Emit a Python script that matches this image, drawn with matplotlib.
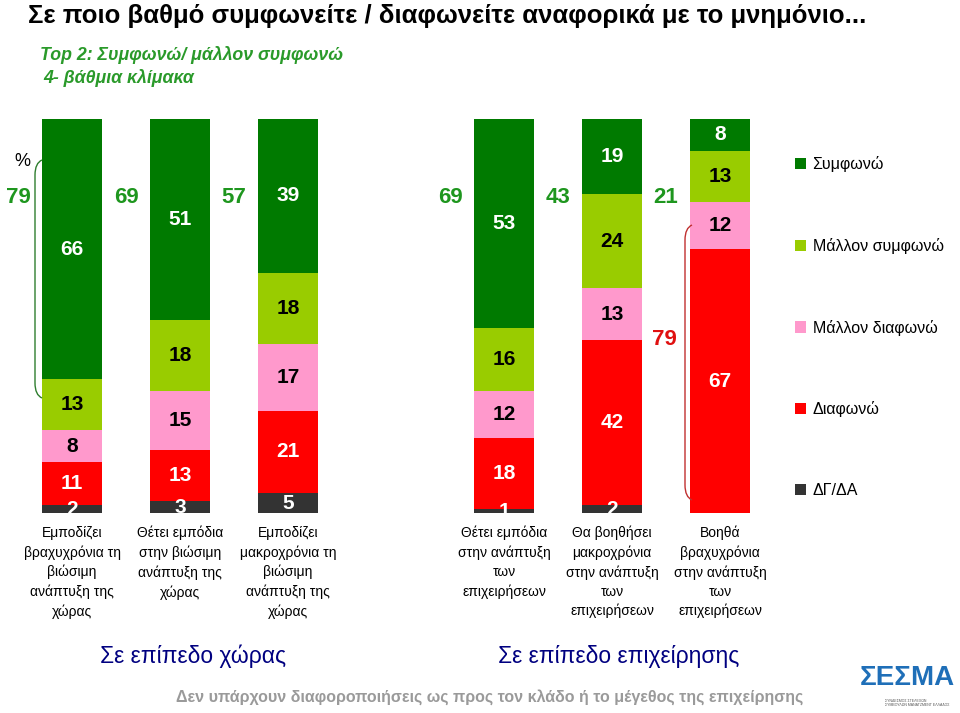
import matplotlib.pyplot as plt
from matplotlib.path import Path
from matplotlib.patches import PathPatch

plt.rcParams["font.family"] = ["Liberation Sans", "DejaVu Sans"]

# Data
categories = [
    "Εμποδίζει\nβραχυχρόνια τη\nβιώσιμη\nανάπτυξη της\nχώρας",
    "Θέτει εμπόδια\nστην βιώσιμη\nανάπτυξη της\nχώρας",
    "Εμποδίζει\nμακροχρόνια τη\nβιώσιμη\nανάπτυξη της\nχώρας",
    "Θέτει εμπόδια\nστην ανάπτυξη\nτων\nεπιχειρήσεων",
    "Θα βοηθήσει\nμακροχρόνια\nστην ανάπτυξη\nτων\nεπιχειρήσεων",
    "Βοηθά\nβραχυχρόνια\nστην ανάπτυξη\nτων\nεπιχειρήσεων",
]
positions = [0, 1, 2, 4, 5, 6]
dk_da = [2, 3, 5, 1, 2, 0]
diafono = [11, 13, 21, 18, 42, 67]
mallon_diafono = [8, 15, 17, 12, 13, 12]
mallon_symfono = [13, 18, 18, 16, 24, 13]
symfono = [66, 51, 39, 53, 19, 8]
top2 = [79, 69, 57, 69, 43, 21]
bottom2_last = 79

series = [
    ("ΔΓ/ΔΑ", dk_da, "#333333", "white"),
    ("Διαφωνώ", diafono, "#ff0000", "white"),
    ("Μάλλον διαφωνώ", mallon_diafono, "#ff99cc", "black"),
    ("Μάλλον συμφωνώ", mallon_symfono, "#99cc00", "black"),
    ("Συμφωνώ", symfono, "#007a00", "white"),
]

W, H = 960, 713
fig = plt.figure(figsize=(W / 100, H / 100), dpi=100)


def fx(x):
    return x / W


def fy(y):
    return 1 - y / H


ax = fig.add_axes([0, fy(513), 1, (513 - 119) / H])
ax.set_xlim(-72 / 108, (W - 72) / 108)
ax.set_ylim(0, 100)
ax.axis("off")

bottoms = [0] * len(positions)
handles = {}
for name, vals, color, tcol in series:
    bars = ax.bar(positions, vals, width=60 / 108, bottom=bottoms, color=color,
                  edgecolor="none")
    handles[name] = bars
    for x, b, v in zip(positions, bottoms, vals):
        if v > 0:
            ax.text(x, b + v / 2, str(v), ha="center", va="center", fontsize=15,
                    fontweight="bold", color=tcol, clip_on=True)
    bottoms = [b + v for b, v in zip(bottoms, vals)]

# top-2 totals
for x, t in zip(positions, top2):
    ax.text(x - 0.5, 80, str(t), ha="center", va="center", fontsize=16,
            fontweight="bold", color="#1e961e", clip_on=False)
ax.text(positions[-1] - 0.51, 44, str(bottom2_last), ha="center", va="center",
        fontsize=16, fontweight="bold", color="#e01010", clip_on=False)

fig.text(fx(22), fy(162), "%", ha="center", va="center", fontsize=13)


# brackets
def bracket(x, y0, y1, color):
    verts = [(fx(x), fy(y0)), (fx(x - 7), fy(y0 + 3)), (fx(x - 7), fy(y0 + 15)),
             (fx(x - 7), fy(y1 - 15)),
             (fx(x - 7), fy(y1 - 3)), (fx(x), fy(y1))]
    codes = [Path.MOVETO, Path.CURVE3, Path.CURVE3, Path.LINETO,
             Path.CURVE3, Path.CURVE3]
    fig.patches.append(PathPatch(Path(verts, codes), transform=fig.transFigure,
                                 fill=False, edgecolor=color, lw=1))


bracket(42, 160, 398, "#2e7d2e")
bracket(692, 225, 500, "#c03030")

# legend
order = ["Συμφωνώ", "Μάλλον συμφωνώ", "Μάλλον διαφωνώ", "Διαφωνώ", "ΔΓ/ΔΑ"]
leg = fig.legend([handles[n] for n in order], order, loc="upper left",
                 bbox_to_anchor=(fx(787), fy(148)), frameon=False, fontsize=11.5,
                 handlelength=0.7, handleheight=0.7, handletextpad=0.4,
                 labelspacing=4.12, borderpad=0)

# category labels
for x, lab in zip(positions, categories):
    px = 72 + 108 * x
    fig.text(fx(px), fy(526), lab, ha="center", va="top", fontsize=10,
             linespacing=1.45)

# titles
fig.text(fx(28), fy(16), "Σε ποιο βαθμό συμφωνείτε / διαφωνείτε αναφορικά με το μνημόνιο...",
         ha="left", va="center", fontsize=18.5, fontweight="bold")
fig.text(fx(40), fy(55), "Top 2: Συμφωνώ/ μάλλον συμφωνώ", ha="left", va="center",
         fontsize=12.8, fontweight="bold", fontstyle="italic", color="#2a9a2a")
fig.text(fx(43), fy(78), "4- βάθμια κλίμακα", ha="left", va="center",
         fontsize=12.8, fontweight="bold", fontstyle="italic", color="#2a9a2a")

fig.text(fx(193), fy(656), "Σε επίπεδο χώρας", ha="center", va="center",
         fontsize=16.5, color="#000080")
fig.text(fx(619), fy(656), "Σε επίπεδο επιχείρησης", ha="center", va="center",
         fontsize=16.5, color="#000080")
fig.text(fx(490), fy(697),
         "Δεν υπάρχουν διαφοροποιήσεις ως προς τον κλάδο ή το μέγεθος της επιχείρησης",
         ha="center", va="center", fontsize=11.5, fontweight="bold", color="#9a9a9a")

# logo
fig.text(fx(907), fy(678), "ΣΕΣΜΑ", ha="center", va="center", fontsize=20,
         color="#1f6fb8", fontweight="bold")
fig.text(fx(885), fy(703), "ΣΥΝΔΕΣΜΟΣ ΣΤΕΛΕΧΩΝ\nΣΥΜΒΟΥΛΩΝ ΜΑΝΑΤΖΜΕΝΤ ΕΛΛΑΔΟΣ",
         ha="left", va="center", fontsize=2.5, color="#555555")

fig.savefig("out.png", dpi=100)
